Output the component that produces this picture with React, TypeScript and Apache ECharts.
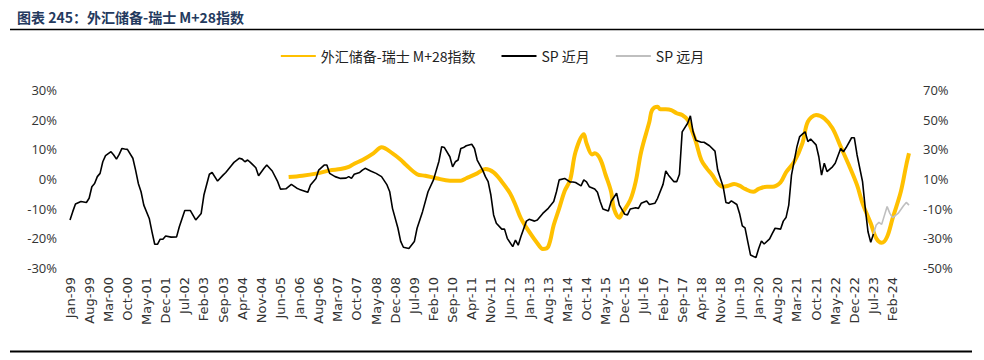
import React, { useEffect, useRef } from "react";
import * as echarts from "echarts";

// Category axis: monthly, Jan-99 .. Aug-24
const MONTH_NAMES = ["Jan", "Feb", "Mar", "Apr", "May", "Jun", "Jul", "Aug", "Sep", "Oct", "Nov", "Dec"];
const START_YEAR = 1999;
const MONTH_COUNT = 308;
const categories: string[] = [];
for (let i = 0; i < MONTH_COUNT; i++) {
  const yy = (START_YEAR + Math.floor(i / 12)) % 100;
  categories.push(`${MONTH_NAMES[i % 12]}-${String(yy).padStart(2, "0")}`);
}

const leftTicks = [-30, -20, -10, 0, 10, 20, 30];
const rightTicks = [-50, -30, -10, 10, 30, 50, 70];

// SP 近月 (left axis, %) — months since Jan-99
const spNearMonths = [
  0, 1, 2, 4, 6, 7, 8, 9, 10, 11, 12, 13, 15, 16, 17, 18, 19, 20, 21, 23, 24, 25, 26, 27, 29, 30, 31, 32, 33, 34, 35, 37, 39, 40, 42, 44, 46, 48, 49, 51, 52, 54, 56, 57, 59,
  60, 62, 63, 64, 65, 66, 68, 69, 71, 72, 74, 76, 77, 79, 81, 83, 84, 87, 88, 90, 91, 93, 94, 95, 97, 99, 101, 102, 103, 104, 106, 107, 108, 110, 112, 114, 116, 117, 118,
  120, 121, 122, 124, 126, 127, 129, 131, 133, 135, 136, 137, 139, 140, 141, 142, 143, 144, 145, 147, 148, 149, 151, 152, 153, 154, 155, 156, 158, 159, 160, 162, 163, 164,
  165, 167, 168, 170, 171, 173, 175, 177, 178, 179, 181, 183, 184, 185, 187, 188, 189, 190, 192, 193, 194, 195, 197, 198, 200, 201, 203, 204, 205, 207, 208, 209, 211, 212,
  214, 215, 217, 218, 219, 221, 222, 223, 224, 226, 227, 228, 229, 231, 232, 234, 236, 237, 238, 239, 240, 241, 242, 244, 245, 246, 247, 248, 249, 251, 252, 253, 254, 256,
  257, 258, 260, 261, 262, 263, 264, 266, 267, 268, 269, 270, 271, 273, 274, 275, 276, 277, 279, 280, 282, 283, 284, 286, 287, 288, 290, 291, 292, 293, 294,
];
const spNearValues = [
  -13.8, -11.0, -8.4, -7.6, -7.9, -6.5, -2.6, -1.5, 0.8, 1.9, 5.8, 7.9, 9.2, 8.1, 6.7, 8.3, 10.3, 10.1, 10.0, 7.0, 3.0, -1.5, -4.3, -8.8, -13.3, -17.8, -22.0, -22.0, -20.3, -20.3, -19.2, -19.6, -19.5, -16.1, -10.6, -10.6, -13.8, -11.6, -5.4, 1.6, 2.2, -0.7, 1.3, 2.2, 4.5,
  5.6, 7.0, 6.7, 5.8, 6.4, 5.6, 3.8, 1.1, 3.6, 4.7, 2.7, -0.9, -3.4, -3.3, -1.8, -3.1, -3.5, -4.5, -2.0, 0.2, 3.0, 4.7, 4.7, 1.9, 0.8, 0.2, 0.3, 0.8, 0.2, 1.6, 2.2, 3.0, 3.6, 2.7, 1.9, 0.8, -2.0, -4.3, -9.9,
  -16.6, -21.0, -23.0, -23.4, -21.1, -16.6, -11.0, -4.3, -0.3, 6.0, 10.9, 10.6, 7.5, 4.1, 5.8, 6.4, 10.3, 10.6, 11.2, 11.7, 10.3, 6.4, 3.0, 0.8, -0.9, -5.4, -12.1, -14.9, -16.9, -16.9, -20.0, -22.8, -20.6, -22.3,
  -19.4, -14.2, -13.6, -14.2, -13.8, -11.6, -9.9, -7.6, -4.3, -0.3, 0.2, -1.0, -1.0, -1.2, -2.3, -0.3, -1.0, -2.6, -3.4, -4.5, -7.6, -10.1, -10.8, -7.6, -4.8, -8.8, -11.9, -12.1, -10.1, -9.7, -9.9, -8.2, -7.4, -8.6,
  -8.2, -6.5, -1.8, 2.7, 1.3, -0.9, -0.9, 1.6, 15.9, 18.8, 21.3, 15.9, 13.1, 12.4, 12.4, 11.2, 9.4, 3.0, 0.2, -2.6, -7.9, -8.2, -7.4, -8.6, -11.6, -15.8, -16.5, -21.1, -25.6, -26.5, -23.4, -20.9, -21.9, -20.2,
  -18.3, -16.6, -16.9, -14.2, -13.0, -8.8, 1.3, 10.9, 14.3, 15.1, 15.9, 12.6, 13.5, 11.5, 7.5, 1.3, 5.3, 2.5, 4.1, 5.3, 10.3, 9.2, 10.6, 13.9, 13.9, 8.1, -0.9, -9.9, -17.8, -21.3, -18.5,
];

// SP 远月 (left axis, %)
const spFarMonths = [294, 295, 296, 297, 299, 300, 301, 303, 305, 306, 307];
const spFarValues = [-18.5, -15.5, -14.6, -15.3, -9.3, -11.6, -13.0, -11.6, -9.0, -7.9, -8.8];

// 外汇储备-瑞士 M+28指数 (right axis, %)
const fxMonths = [
  80, 85, 90, 95, 99, 102, 104, 107, 111, 114, 118, 121, 123, 127, 130, 134, 139, 143, 145, 149, 152, 155, 158, 161, 163, 165, 168, 171, 173, 175, 177, 179, 181, 183, 185,
  188, 189, 191, 192, 194, 196, 198, 199, 201, 202, 205, 207, 209, 212, 213, 215, 216, 218, 220, 222, 224, 226, 227, 229, 231, 233, 235, 237, 239, 241, 243, 245, 247, 250,
  252, 255, 257, 260, 262, 265, 268, 270, 273, 276, 279, 282, 285, 288, 290, 293, 295, 297, 299, 301, 304, 306, 307,
];
const fxValues = [
  11.3, 12.2, 13.6, 15.8, 16.7, 18.1, 20.3, 22.8, 27.3, 31.4, 27.3, 23.0, 19.4, 13.2, 12.2, 10.5, 8.9, 8.9, 10.5, 13.8, 16.7, 14.5, 8.2, 0.4, -7.5, -16.5, -25.5, -33.3, -37.2, -35.6, -21.0, -9.8, 1.9, 9.3, 28.4,
  40.1, 34.1, 26.6, 27.3, 23.5, 12.7, 1.4, -9.8, -16.1, -13.1, -4.2, 8.2, 28.4, 48.6, 56.5, 58.7, 57.0, 57.0, 56.5, 54.3, 53.1, 49.8, 45.3, 35.2, 22.8, 17.2, 12.7, 7.1, 4.8, 5.5, 6.6, 5.5, 3.3, 1.4,
  3.3, 4.8, 4.8, 7.8, 14.5, 21.7, 34.1, 48.6, 53.1, 50.9, 44.2, 31.8, 19.4, 5.9, -6.4, -19.9, -30.0, -33.0, -28.9, -16.5, 1.4, 19.4, 27.3,
];

const pairs = (months: number[], values: number[]) => months.map((m, i) => [categories[m], values[i]]);

const LABEL_FONT = "'Open Sans', 'Noto Sans', sans-serif";
const XLABEL_FONT = "'DejaVu Sans', 'Open Sans', sans-serif";
const CJK_FONT = "'Noto Sans CJK SC', sans-serif";

export default function App() {
  const ref = useRef<HTMLDivElement>(null);
  useEffect(() => {
    document.body.style.margin = "0";
    if (!ref.current) return;
    const chart = echarts.init(ref.current, undefined, { renderer: "svg" });
    chart.setOption({
      animation: false,
      backgroundColor: "#fff",
      title: {
        text: "图表 245：外汇储备-瑞士 M+28指数",
        left: 12,
        top: 5,
        textStyle: { fontSize: 14, fontWeight: "bold", color: "#243a5e", fontFamily: CJK_FONT },
      },
      graphic: [
        { type: "line", shape: { x1: 10, y1: 29.5, x2: 984, y2: 29.5 }, style: { stroke: "#000", lineWidth: 1.5 } },
        { type: "line", shape: { x1: 10, y1: 351.5, x2: 972, y2: 351.5 }, style: { stroke: "#000", lineWidth: 2 } },
      ],
      legend: {
        top: 44,
        left: "center",
        itemWidth: 35,
        itemHeight: 10,
        itemGap: 25,
        itemStyle: { opacity: 0 },
        textStyle: { fontSize: 14, color: "#222", fontFamily: CJK_FONT },
        data: ["外汇储备-瑞士 M+28指数", "SP 近月", "SP 远月"],
      },
      grid: { left: 70, right: 75, top: 90, bottom: 92 },
      xAxis: {
        type: "category",
        data: categories,
        boundaryGap: false,
        axisLine: { show: false },
        axisTick: { show: false },
        splitLine: { show: false },
        axisLabel: { interval: 6, rotate: 90, margin: 9, fontSize: 13, color: "#333", fontFamily: XLABEL_FONT },
      },
      yAxis: [
        {
          type: "value",
          min: leftTicks[0],
          max: leftTicks[leftTicks.length - 1],
          interval: 10,
          axisLine: { show: false },
          axisTick: { show: false },
          splitLine: { show: false },
          axisLabel: { formatter: "{value}%", fontSize: 13, color: "#333", margin: 13, fontFamily: LABEL_FONT },
        },
        {
          type: "value",
          min: rightTicks[0],
          max: rightTicks[rightTicks.length - 1],
          interval: 20,
          axisLine: { show: false },
          axisTick: { show: false },
          splitLine: { show: false },
          axisLabel: { formatter: "{value}%", fontSize: 13, color: "#333", margin: 14, fontFamily: LABEL_FONT },
        },
      ],
      series: [
        {
          name: "外汇储备-瑞士 M+28指数",
          type: "line",
          yAxisIndex: 1,
          data: pairs(fxMonths, fxValues),
          symbol: "none",
          smooth: 0.35,
          lineStyle: { color: "#FFC000", width: 4 },
          itemStyle: { color: "#FFC000" },
          z: 2,
        },
        {
          name: "SP 近月",
          type: "line",
          yAxisIndex: 0,
          data: pairs(spNearMonths, spNearValues),
          symbol: "none",
          lineStyle: { color: "#000", width: 1.6 },
          itemStyle: { color: "#000" },
          z: 3,
        },
        {
          name: "SP 远月",
          type: "line",
          yAxisIndex: 0,
          data: pairs(spFarMonths, spFarValues),
          symbol: "none",
          lineStyle: { color: "#BFBFBF", width: 1.6 },
          itemStyle: { color: "#BFBFBF" },
          z: 3,
        },
      ],
    });
    return () => chart.dispose();
  }, []);
  return <div ref={ref} style={{ width: 984, height: 360 }} />;
}
